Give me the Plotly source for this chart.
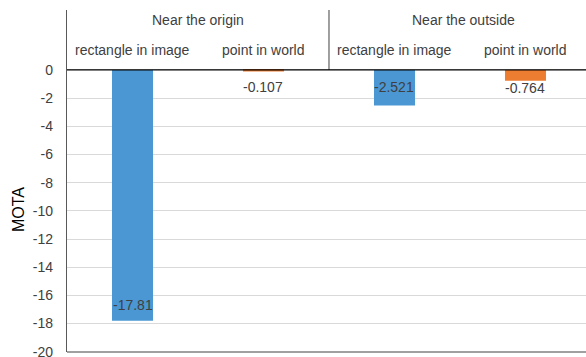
import plotly.graph_objects as go

groups = ["Near the origin", "Near the outside"]
methods = ["rectangle in image", "point in world", "rectangle in image", "point in world"]
values = [-17.81, -0.107, -2.521, -0.764]
labels = ["-17.81", "-0.107", "-2.521", "-0.764"]
colors = ["#4A97D3", "#ED7D31", "#4A97D3", "#ED7D31"]
y_ticks = [0, -2, -4, -6, -8, -10, -12, -14, -16, -18, -20]

FONT = "Liberation Sans"
x_idx = list(range(len(values)))

fig = go.Figure(go.Bar(
    x=x_idx, y=values, width=0.313,
    marker=dict(color=colors, line=dict(width=0)),
    hoverinfo="skip",
))

ann = []
label_shift = [16, -16, 18, -7]
for i, (v, t) in enumerate(zip(values, labels)):
    ann.append(dict(x=i, y=v, xref="x", yref="y", text=t, showarrow=False,
                    yanchor="middle", yshift=label_shift[i],
                    font=dict(family=FONT, size=14, color="#404040")))
for i, m in enumerate(methods):
    ann.append(dict(x=i, y=1.418, xref="x", yref="y", text=m, showarrow=False,
                    yanchor="middle", font=dict(family=FONT, size=14, color="#404040")))
for g, gi in enumerate(groups):
    ann.append(dict(x=0.5 + 2 * g + (0.03 if g == 1 else 0), y=3.546, xref="x", yref="y", text=gi,
                    showarrow=False, yanchor="middle",
                    font=dict(family=FONT, size=14, color="#404040")))
ann.append(dict(x=(18 - 67) / 519, y=(352 - 210) / 342, xref="paper", yref="paper",
                text="MOTA", showarrow=False, xanchor="center", yanchor="middle",
                textangle=-90, font=dict(family=FONT, size=16, color="#000000")))

ytop = 4.255
ybot = -20.02
fig.update_layout(
    width=586, height=357,
    margin=dict(l=67, r=0, t=10, b=5, autoexpand=False),
    paper_bgcolor="white", plot_bgcolor="white",
    showlegend=False,
    xaxis=dict(range=[-0.5, 3.462], showticklabels=False, showgrid=False,
               zeroline=False, showline=False, ticks="", automargin=False),
    yaxis=dict(range=[ybot, ytop], tickvals=y_ticks, ticktext=[str(t) for t in y_ticks],
               showgrid=True, gridcolor="#D9D9D9", gridwidth=1,
               zeroline=False, automargin=False,
               showline=True, linecolor="#595959", linewidth=1.3,
               ticks="", ticklabelstandoff=10, ticklabeloverflow="allow",
               tickfont=dict(family=FONT, size=14, color="#404040")),
    annotations=ann,
    shapes=[
        dict(type="line", xref="x", yref="y", x0=1.5, x1=1.5, y0=0, y1=ytop,
             line=dict(color="#404040", width=1)),
        dict(type="line", xref="paper", yref="y", x0=0, x1=1, y0=0, y1=0,
             line=dict(color="#000000", width=1.3)),
        dict(type="line", xref="paper", yref="paper", x0=0, x1=1, y0=0, y1=0,
             line=dict(color="#808080", width=1.3)),
    ],
)

fig.write_html("out.html")
